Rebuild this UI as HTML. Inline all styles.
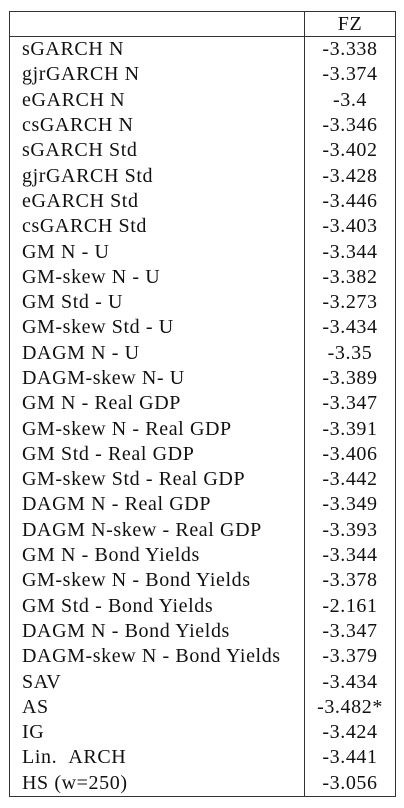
<!DOCTYPE html>
<html><head><meta charset="utf-8"><style>
html,body{margin:0;padding:0;background:#fff;width:404px;height:808px;overflow:hidden}
table{position:absolute;left:9px;top:11px;border-collapse:collapse;font-family:"Liberation Serif",serif;font-size:20px;letter-spacing:0.6px;color:#111;table-layout:fixed;width:386px}
td{padding:0;height:25.3px;line-height:25px;white-space:nowrap;overflow:hidden}
td.l{width:282px;padding-left:12px;border-left:1.3px solid #333;border-right:1.3px solid #333}
td.v{width:90px;text-align:center;border-right:1.3px solid #333}
tr.h td{height:23px;line-height:24px;border-top:1.3px solid #333;border-bottom:1.3px solid #333}
tr.last td{border-bottom:1.3px solid #333}
</style></head><body>
<table>
<tr class="h"><td class="l"></td><td class="v">FZ</td></tr>
<tbody id="b"></tbody>
</table>
<script>
const models=["sGARCH N","gjrGARCH N","eGARCH N","csGARCH N","sGARCH Std","gjrGARCH Std","eGARCH Std","csGARCH Std","GM N - U","GM-skew N - U","GM Std - U","GM-skew Std - U","DAGM N - U","DAGM-skew N- U","GM N - Real GDP","GM-skew N - Real GDP","GM Std - Real GDP","GM-skew Std - Real GDP","DAGM N - Real GDP","DAGM N-skew - Real GDP","GM N - Bond Yields","GM-skew N - Bond Yields","GM Std - Bond Yields","DAGM N - Bond Yields","DAGM-skew N - Bond Yields","SAV","AS","IG","Lin.  ARCH","HS (w=250)"];
const values=["-3.338","-3.374","-3.4","-3.346","-3.402","-3.428","-3.446","-3.403","-3.344","-3.382","-3.273","-3.434","-3.35","-3.389","-3.347","-3.391","-3.406","-3.442","-3.349","-3.393","-3.344","-3.378","-2.161","-3.347","-3.379","-3.434","-3.482*","-3.424","-3.441","-3.056"];
const b=document.getElementById('b');
models.forEach((m,i)=>{
const tr=document.createElement('tr');


if(i===models.length-1)tr.className='last';
const a=document.createElement('td');a.className='l';a.textContent=m.replace('  ','\u00a0\u00a0');


const v=document.createElement('td');v.className='v';v.textContent=values[i];


tr.appendChild(a);tr.appendChild(v);b.appendChild(tr);
});
</script>
</body></html>
